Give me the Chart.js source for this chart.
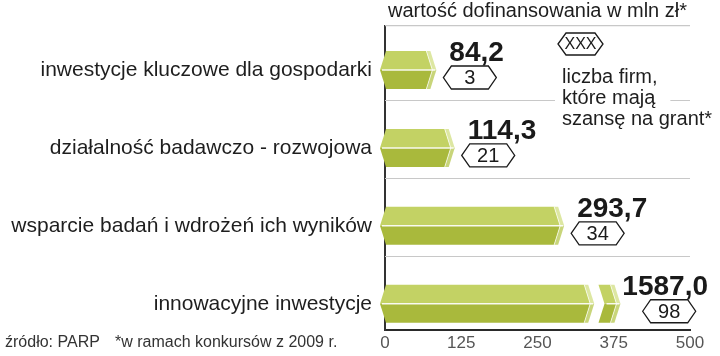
<!DOCTYPE html>
<html><head><meta charset="utf-8">
<script src="https://cdn.jsdelivr.net/npm/chart.js@4"></script>
<style>html,body{margin:0;padding:0;background:#fff}#wrap{width:720px;height:356px;position:relative}</style>
</head><body><div id="wrap"><canvas id="c" width="720" height="356"></canvas></div>
<script>
// ---- data ----
const CATEGORIES = ["inwestycje kluczowe dla gospodarki", "działalność badawczo - rozwojowa", "wsparcie badań i wdrożeń ich wyników", "innowacyjne inwestycje"];
const VALUES = [84.2, 114.3, 293.7, 1587.0];
const VALUE_LABELS = ["84,2", "114,3", "293,7", "1587,0"];
const FIRMS = [3, 21, 34, 98];
const X_TICKS = [0, 125, 250, 375, 500];
const AXIS_MAX = 500;
// broken-bar representation for values beyond the axis (in axis units)
const BREAK_AT = 343;
const BREAK_RESUME = 350;
const BROKEN_END = 386;
const TITLE = "wartość dofinansowania w mln zł*";
const LEGEND_SYMBOL = "XXX";
const LEGEND_LINES = ["liczba firm,", "które mają", "szansę na grant*"];
const SOURCE = "źródło: PARP";
const NOTE = "*w ramach konkursów z 2009 r.";

const FONT = "'Liberation Sans', Arial, sans-serif";
const C_TOP = '#c3d264', C_BOT = '#a9b93c', CAP_TOP = '#dde7a2', CAP_BOT = '#c8d57a';

function poly(ctx, pts, fill) {
  ctx.beginPath();
  ctx.moveTo(pts[0][0], pts[0][1]);
  for (let i = 1; i < pts.length; i++) ctx.lineTo(pts[i][0], pts[i][1]);
  ctx.closePath();
  ctx.fillStyle = fill; ctx.fill();
}
function drawSeg(ctx, xs, xe, top, bot, pointed) {
  const mid = (top + bot) / 2;
  let lt, lm, lb;
  if (pointed) { lt = [xs + 1, top]; lm = [xs - 5, mid]; lb = [xs + 1, bot]; }
  else { lt = [xs, top]; lm = [xs + 6, mid]; lb = [xs, bot]; }
  poly(ctx, [lm, lt, [xe - 10, top], [xe - 4, mid]], C_TOP);
  poly(ctx, [lm, [xe - 4, mid], [xe - 10, bot], lb], C_BOT);
  poly(ctx, [[xe - 10, top], [xe - 6, top], [xe, mid], [xe - 4, mid]], CAP_TOP);
  poly(ctx, [[xe - 4, mid], [xe, mid], [xe - 6, bot], [xe - 10, bot]], CAP_BOT);
  ctx.strokeStyle = 'rgba(255,255,255,0.9)';
  ctx.lineWidth = 1.5;
  ctx.beginPath(); ctx.moveTo(lm[0] + 2, mid); ctx.lineTo(xe - 1, mid); ctx.stroke();
  ctx.lineWidth = 1;
  ctx.strokeStyle = 'rgba(255,255,255,0.7)';
  ctx.beginPath(); ctx.moveTo(xe - 10, top); ctx.lineTo(xe - 4, mid); ctx.lineTo(xe - 10, bot); ctx.stroke();
}
function hexBox(ctx, x, y, w, h, text, size) {
  const m = y + h / 2, d = 8;
  ctx.beginPath();
  ctx.moveTo(x, m); ctx.lineTo(x + d, y); ctx.lineTo(x + w - d, y); ctx.lineTo(x + w, m);
  ctx.lineTo(x + w - d, y + h); ctx.lineTo(x + d, y + h); ctx.closePath();
  ctx.fillStyle = '#fff'; ctx.fill();
  ctx.strokeStyle = '#1a1a1a'; ctx.lineWidth = 1.3; ctx.stroke();
  ctx.fillStyle = '#1a1a1a';
  ctx.font = size + 'px ' + FONT;
  ctx.textAlign = 'center'; ctx.textBaseline = 'middle';
  ctx.fillText(text, x + w / 2, m + 1);
}

const decor = {
  id: 'decor',
  beforeDatasetsDraw(chart) {
    const ctx = chart.ctx, ca = chart.chartArea;
    const meta = chart.getDatasetMeta(0);
    ctx.save();
    ctx.strokeStyle = '#c8c8c8'; ctx.lineWidth = 1.2;
    ctx.beginPath(); ctx.moveTo(ca.left, ca.top); ctx.lineTo(ca.right, ca.top); ctx.stroke();
    ctx.font = '20px ' + FONT;
    const legX = 562;
    const gapA = legX - 7, gapB = legX + ctx.measureText(LEGEND_LINES[1]).width + 15;
    for (let i = 0; i < meta.data.length - 1; i++) {
      const el = meta.data[i];
      const y = Math.round(el.y + el.height / 2 + 11) + 0.5;
      ctx.beginPath();
      if (i === 0) {
        ctx.moveTo(ca.left, y); ctx.lineTo(gapA, y);
        ctx.moveTo(gapB, y); ctx.lineTo(ca.right, y);
      } else { ctx.moveTo(ca.left, y); ctx.lineTo(ca.right, y); }
      ctx.stroke();
    }
    ctx.restore();
  },
  afterDatasetsDraw(chart) {
    const ctx = chart.ctx, ca = chart.chartArea, xs = chart.scales.x;
    const meta = chart.getDatasetMeta(0);
    ctx.save();
    meta.data.forEach((el, i) => {
      const top = el.y - el.height / 2, bot = el.y + el.height / 2;
      const base = el.base, end = el.x;
      if (VALUES[i] > AXIS_MAX) {
        drawSeg(ctx, base, xs.getPixelForValue(BREAK_AT), top, bot, true);
        drawSeg(ctx, xs.getPixelForValue(BREAK_RESUME), end, top, bot, false);
      } else {
        drawSeg(ctx, base, end, top, bot, true);
      }
      const bw = 53, bh = 23;
      ctx.font = 'bold 28px ' + FONT;
      const lw = ctx.measureText(VALUE_LABELS[i]).width;
      let boxX = end + 7;
      let labX = boxX + 6;
      const maxRight = 708;
      if (labX + lw > maxRight) { labX = maxRight - lw; boxX = labX + lw / 2 + 4 - bw / 2; }
      ctx.fillStyle = '#1a1a1a'; ctx.textAlign = 'left'; ctx.textBaseline = 'alphabetic';
      ctx.fillText(VALUE_LABELS[i], labX, bot - bh - 5);
      hexBox(ctx, boxX, bot - bh, bw, bh, String(FIRMS[i]), 20);
    });
    hexBox(ctx, 558, 33, 45, 22, LEGEND_SYMBOL, 16);
    ctx.fillStyle = '#1e1e1e'; ctx.font = '20px ' + FONT;
    ctx.textAlign = 'left'; ctx.textBaseline = 'alphabetic';
    LEGEND_LINES.forEach((t, k) => ctx.fillText(t, 562, 83 + k * 21));
    ctx.font = '20px ' + FONT; ctx.textAlign = 'center';
    ctx.fillText(TITLE, (ca.left + ca.right) / 2, 17);
    ctx.font = '16px ' + FONT; ctx.fillStyle = '#333'; ctx.textAlign = 'left';
    ctx.fillText(SOURCE, 5, 347);
    ctx.fillText(NOTE, 115, 347);
    ctx.restore();
  }
};

new Chart(document.getElementById('c'), {
  type: 'bar',
  data: {
    datasets: [{
      data: VALUES.map((v, i) => ({ x: v > AXIS_MAX ? BROKEN_END : v, y: i })),
      backgroundColor: 'rgba(0,0,0,0)', borderWidth: 0, barThickness: 38
    }]
  },
  options: {
    indexAxis: 'y', responsive: false, animation: false,
    layout: { padding: { top: 24, right: 30, left: 0, bottom: 0 } },
    plugins: { legend: { display: false }, tooltip: { enabled: false }, title: { display: false } },
    scales: {
      x: {
        type: 'linear', min: 0, max: AXIS_MAX, offset: false,
        afterBuildTicks: s => { s.ticks = X_TICKS.map(v => ({ value: v })); },
        grid: { display: false, drawTicks: false },
        border: { display: true, color: '#2a2a2a', width: 2 },
        ticks: { font: { family: FONT, size: 17 }, color: '#555', padding: 3, maxRotation: 0, autoSkip: false },
        afterFit: s => { s.height = 23; }
      },
      y: {
        type: 'linear', reverse: true, min: -0.57, max: 3.342, offset: false,
        afterBuildTicks: s => { s.ticks = CATEGORIES.map((_, i) => ({ value: i })); },
        grid: { display: false, drawTicks: false, offset: false },
        border: { display: true, color: '#333', width: 2 },
        ticks: { callback: v => CATEGORIES[v], font: { family: FONT, size: 21 }, color: '#1e1e1e', padding: 13, autoSkip: false },
        afterFit: s => { s.width = 385; }
      }
    }
  },
  plugins: [decor]
});
</script>
</body></html>
